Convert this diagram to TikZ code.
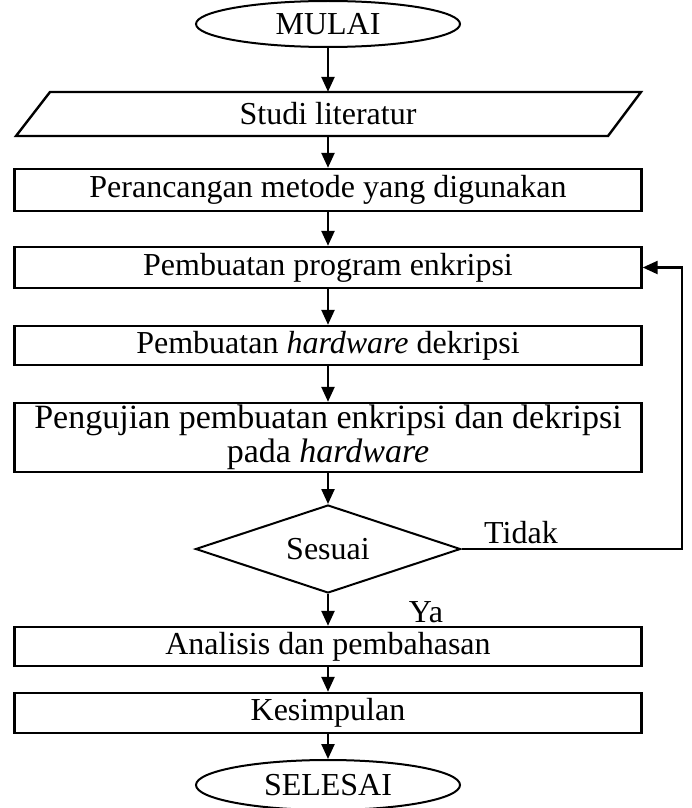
\documentclass[tikz,border=0pt]{standalone}
\usepackage{fontspec}
\setmainfont{Liberation Serif}
\usetikzlibrary{shapes.geometric,arrows.meta}
\begin{document}
\begin{tikzpicture}[x=1pt,y=-1pt,
  huruf/.style={font=\fontsize{32}{36}\selectfont},
  kotak/.style={huruf,draw,line width=2.4pt,minimum width=627,inner sep=0pt},
  ujung/.style={huruf,draw,ellipse,line width=2pt,minimum width=264,minimum height=46,inner sep=0pt},
  pilih/.style={huruf,draw,diamond,line width=2pt,aspect=3,inner sep=0pt,minimum width=265,minimum height=88},
  panah/.style={line width=2.4pt,-{Triangle[width=13pt,length=15pt]}}]
\useasboundingbox (0,0) rectangle (691,808);
%
\node[ujung] (mulai) at (328,24) {MULAI};
\node[huruf,minimum width=592,minimum height=44] (studi) at (328,114) {Studi literatur};
\draw[line width=2.4pt] (50,92) -- (641,92) -- (608,136) -- (16,136) -- cycle;
%
\node[kotak,minimum height=42] (rancang) at (328,190) {Perancangan metode yang digunakan};
\node[kotak,minimum height=41] (program) at (328,267.5) {Pembuatan program enkripsi};
\node[kotak,minimum height=39] (hardware) at (328,345.5) {Pembuatan \textit{hardware} dekripsi};
\node[kotak,minimum height=69,align=center,font=\fontsize{34}{34}\selectfont] (uji) at (328,437.5)
  {Pengujian pembuatan enkripsi dan dekripsi\\pada \textit{hardware}};
%
\node[pilih] (sesuai) at (328,549) {Sesuai};
\node[huruf] (tidak) at (521,533) {Tidak};
\node[huruf] (ya) at (426,612) {Ya};
%
\node[kotak,minimum height=39] (analisis) at (328,646.5) {Analisis dan pembahasan};
\node[kotak,minimum height=40] (simpul) at (328,713) {Kesimpulan};
\node[ujung,minimum height=50] (selesai) at (328,785) {SELESAI};
%
\draw[panah] (mulai.south) -- (studi.north);
\draw[panah] (studi.south) -- (rancang.north);
\draw[panah] (rancang.south) -- (program.north);
\draw[panah] (program.south) -- (hardware.north);
\draw[panah] (hardware.south) -- (uji.north);
\draw[panah] (uji.south) -- (sesuai.north);
\draw[panah] (sesuai.south) -- (analisis.north);
\draw[panah] (analisis.south) -- (simpul.north);
\draw[panah] (simpul.south) -- (selesai.north);
%
\coordinate (balik) at (682,267.5);
\draw[panah] (sesuai.east) -| (balik) -- (program.east);
\end{tikzpicture}
\end{document}
